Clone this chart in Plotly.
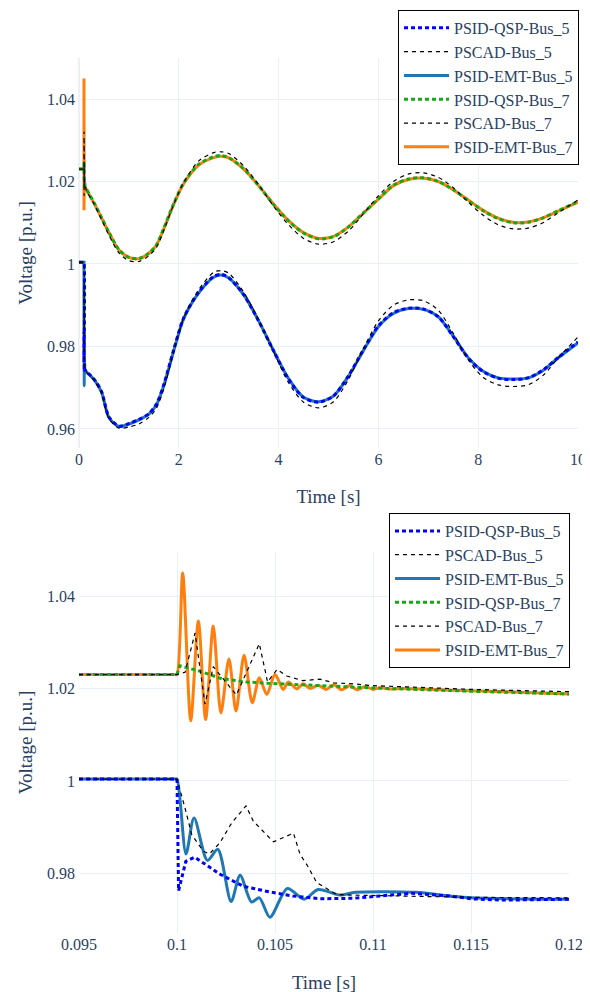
import plotly.graph_objects as go

# ---------------- fast (zoom window) data: 0.095 s .. 0.12 s ----------------
t_qsp5 = [0.095, 0.1, 0.10008, 0.10045, 0.1009, 0.1022, 0.10338, 0.1047, 0.1059, 0.1073, 0.1090, 0.1110, 0.1120, 0.1139, 0.1150, 0.1165, 0.12]
v_qsp5 = [1.0004, 1.0004, 0.9762, 0.9826, 0.9835, 0.9798, 0.9772, 0.9760, 0.9751, 0.9745, 0.9746, 0.9753, 0.9757, 0.9751, 0.9745, 0.9742, 0.9744]

t_pscad5 = [0.095, 0.1, 0.10041, 0.10075, 0.10134, 0.10165, 0.10219, 0.10279, 0.10352, 0.10389, 0.10492, 0.10594, 0.10628, 0.10662, 0.10713, 0.10755, 0.10815, 0.10885, 0.1115, 0.115, 0.12]
v_pscad5 = [1.0004, 1.0004, 0.9941, 0.9884, 0.9848, 0.9842, 0.9866, 0.9909, 0.9946, 0.9913, 0.9868, 0.9887, 0.9841, 0.9819, 0.9780, 0.9769, 0.9754, 0.9753, 0.9751, 0.9748, 0.9747]

t_emt5 = [0.095, 0.0999, 0.1, 0.10046, 0.10087, 0.10155, 0.10208, 0.10276, 0.10322, 0.10380, 0.10420, 0.10474, 0.10563, 0.10648, 0.10720, 0.10832, 0.10910, 0.1122, 0.1139, 0.115, 0.12]
v_emt5 = [1.0004, 1.0004, 1.0004, 0.9842, 0.9920, 0.9828, 0.9852, 0.9739, 0.9796, 0.9738, 0.9747, 0.9705, 0.9767, 0.9744, 0.9765, 0.9753, 0.9759, 0.9759, 0.9751, 0.9747, 0.9744]

t_qsp7 = [0.095, 0.1, 0.10015, 0.1012, 0.1022, 0.10355, 0.10474, 0.1068, 0.1100, 0.1150, 0.12]
v_qsp7 = [1.0230, 1.0230, 1.0249, 1.0237, 1.0222, 1.0214, 1.0211, 1.0207, 1.0201, 1.0194, 1.0188]

t_pscad7 = [0.095, 0.1, 0.10041, 0.10092, 0.10143, 0.10185, 0.10303, 0.1042, 0.10462, 0.1051, 0.1056, 0.10640, 0.10730, 0.1080, 0.1090, 0.1100, 0.1120, 0.1150, 0.12]
v_pscad7 = [1.0230, 1.0230, 1.0235, 1.0320, 1.0166, 1.0247, 1.0186, 1.0297, 1.0214, 1.0241, 1.0227, 1.0217, 1.0220, 1.0212, 1.0210, 1.0206, 1.0203, 1.0198, 1.0193]

t_emt7 = [0.095, 0.0999, 0.1, 0.10029, 0.1007, 0.10109, 0.10146, 0.10185, 0.10224, 0.10265, 0.10301, 0.10342, 0.10384, 0.1042, 0.10458, 0.105, 0.10542, 0.10568, 0.10611, 0.10644, 0.10679, 0.10721, 0.1076, 0.108, 0.1084, 0.1088, 0.1092, 0.1096, 0.11, 0.1104, 0.1108, 0.1115, 0.113, 0.115, 0.1175, 0.12]
v_emt7 = [1.0230, 1.0230, 1.0230, 1.0450, 1.0130, 1.0346, 1.0133, 1.0335, 1.0147, 1.0264, 1.0151, 1.0272, 1.0169, 1.0223, 1.0187, 1.0230, 1.0198, 1.0214, 1.0199, 1.0210, 1.0200, 1.0207, 1.0198, 1.0208, 1.0197, 1.0206, 1.0197, 1.0204, 1.0198, 1.0202, 1.0199, 1.0200, 1.0198, 1.0195, 1.0192, 1.0188]

# ---------------- slow data: 0.15 s .. 10 s ----------------
t_slow = [0.15, 0.3, 0.45, 0.6, 0.8, 1.0, 1.2, 1.4, 1.55, 1.7, 1.9, 2.1, 2.4, 2.7, 2.85, 3.0, 3.3, 3.6, 3.9, 4.2,
          4.5, 4.8, 5.1, 5.4, 5.7, 6.0, 6.3, 6.6, 6.9, 7.2, 7.5, 7.8, 8.1, 8.4, 8.7, 9.0, 9.3, 9.6, 10.0]

s_qsp5 = [0.9739, 0.9721, 0.9691, 0.9629, 0.9607, 0.9613, 0.9623, 0.9637, 0.9660, 0.9708, 0.9793, 0.9870, 0.9932, 0.9970, 0.9975, 0.9967, 0.9926, 0.9862, 0.9789, 0.9721,
          0.9676, 0.9665, 0.9680, 0.9729, 0.9792, 0.9850, 0.9882, 0.9893, 0.9891, 0.9872, 0.9824, 0.9772, 0.9739, 0.9723, 0.9720, 0.9724, 0.9743, 0.9773, 0.9811]
s_pscad5 = [0.9738, 0.9718, 0.9688, 0.9625, 0.9602, 0.9605, 0.9612, 0.9628, 0.9650, 0.9698, 0.9788, 0.9870, 0.9938, 0.9980, 0.9984, 0.9978, 0.9932, 0.9865, 0.9788, 0.9712,
            0.9665, 0.9651, 0.9666, 0.9720, 0.9795, 0.9862, 0.9900, 0.9913, 0.9911, 0.9888, 0.9832, 0.9768, 0.9725, 0.9707, 0.9703, 0.9707, 0.9730, 0.9772, 0.9823]
s_emt5 = [0.9738, 0.9720, 0.9690, 0.9628, 0.9606, 0.9612, 0.9622, 0.9636, 0.9658, 0.9705, 0.9790, 0.9868, 0.9930, 0.9968, 0.9973, 0.9966, 0.9925, 0.9862, 0.9790, 0.9722,
          0.9677, 0.9666, 0.9680, 0.9728, 0.9790, 0.9848, 0.9880, 0.9892, 0.9890, 0.9872, 0.9825, 0.9773, 0.9740, 0.9724, 0.9721, 0.9724, 0.9742, 0.9772, 0.9809]
s_qsp7 = [1.0181, 1.0149, 1.0113, 1.0077, 1.0035, 1.0016, 1.0013, 1.0026, 1.0046, 1.0087, 1.0147, 1.0197, 1.0242, 1.0260, 1.0263, 1.0258, 1.0231, 1.0190, 1.0144, 1.0104,
          1.0075, 1.0061, 1.0066, 1.0090, 1.0124, 1.0158, 1.0191, 1.0206, 1.0209, 1.0200, 1.0180, 1.0154, 1.0129, 1.0110, 1.0100, 1.0101, 1.0112, 1.0129, 1.0151]
s_pscad7 = [1.0178, 1.0146, 1.0108, 1.0070, 1.0027, 1.0008, 1.0006, 1.0020, 1.0040, 1.0082, 1.0145, 1.0198, 1.0250, 1.0270, 1.0272, 1.0268, 1.0238, 1.0192, 1.0140, 1.0095,
            1.0062, 1.0048, 1.0054, 1.0080, 1.0122, 1.0165, 1.0200, 1.0218, 1.0221, 1.0210, 1.0185, 1.0150, 1.0118, 1.0095, 1.0085, 1.0087, 1.0100, 1.0124, 1.0155]
s_emt7 = [1.0180, 1.0148, 1.0112, 1.0076, 1.0034, 1.0016, 1.0013, 1.0026, 1.0045, 1.0085, 1.0145, 1.0195, 1.0240, 1.0258, 1.0261, 1.0257, 1.0230, 1.0190, 1.0145, 1.0105,
          1.0076, 1.0062, 1.0067, 1.0090, 1.0123, 1.0157, 1.0190, 1.0205, 1.0208, 1.0200, 1.0180, 1.0155, 1.0130, 1.0111, 1.0101, 1.0102, 1.0112, 1.0128, 1.0150]

names = ["PSID-QSP-Bus_5", "PSCAD-Bus_5", "PSID-EMT-Bus_5", "PSID-QSP-Bus_7", "PSCAD-Bus_7", "PSID-EMT-Bus_7"]

FONT = "Liberation Serif"
TXT = "#2a3f5f"
GRID = "#EBF0F8"

styles = {
    "PSID-QSP-Bus_5": dict(color="#0000ff", width=3, dash="4px,3px"),
    "PSCAD-Bus_5": dict(color="#000000", width=1.2, dash="4px,4px"),
    "PSID-EMT-Bus_5": dict(color="#1f77b4", width=3, dash="solid"),
    "PSID-QSP-Bus_7": dict(color="#14aa14", width=3, dash="4px,3px"),
    "PSCAD-Bus_7": dict(color="#000000", width=1.2, dash="4px,4px"),
    "PSID-EMT-Bus_7": dict(color="#ff7f0e", width=3, dash="solid"),
}

fast = {
    "PSID-QSP-Bus_5": (t_qsp5, v_qsp5, s_qsp5),
    "PSCAD-Bus_5": (t_pscad5, v_pscad5, s_pscad5),
    "PSID-EMT-Bus_5": (t_emt5, v_emt5, s_emt5),
    "PSID-QSP-Bus_7": (t_qsp7, v_qsp7, s_qsp7),
    "PSCAD-Bus_7": (t_pscad7, v_pscad7, s_pscad7),
    "PSID-EMT-Bus_7": (t_emt7, v_emt7, s_emt7),
}

draw_order = ["PSID-EMT-Bus_5", "PSID-EMT-Bus_7", "PSID-QSP-Bus_5", "PSID-QSP-Bus_7", "PSCAD-Bus_5", "PSCAD-Bus_7"]

fig = go.Figure()
for panel in (1, 2):
    for nm in draw_order:
        tf, vf, vs = fast[nm]
        st = styles[nm]
        emt = "EMT" in nm
        if panel == 1:
            x = [0.0] + tf + t_slow
            y = [vf[0]] + vf + vs
            shape = "spline"
            xa, ya, lg = "x", "y", "legend"
        else:
            x, y = tf, vf
            shape = "spline" if emt else "linear"
            xa, ya, lg = "x2", "y2", "legend2"
        fig.add_trace(go.Scatter(
            x=x, y=y, mode="lines", name=nm,
            line=dict(color=st["color"], width=st["width"], dash=st["dash"], shape=shape, smoothing=0.8),
            legendrank=names.index(nm) + 1, xaxis=xa, yaxis=ya, legend=lg))

axis_common = dict(gridcolor=GRID, gridwidth=1, showline=False, automargin=False,
                   tickfont=dict(family=FONT, size=16, color=TXT), ticks="",
                   title_font=dict(family=FONT, size=19, color=TXT))

legend_common = dict(bgcolor="white", bordercolor="black", borderwidth=1, itemwidth=45,
                     font=dict(family=FONT, size=16, color=TXT), xanchor="right", yanchor="top",
                     traceorder="normal")

fig.update_layout(
    width=590, height=992,
    template="plotly_white",
    plot_bgcolor="white", paper_bgcolor="white",
    margin=dict(l=71, r=20, t=50, b=67, autoexpand=False),
    font=dict(family=FONT, color=TXT),
    xaxis=dict(domain=[0, 1], anchor="y", range=[0, 10], tick0=0, dtick=2,
               title=dict(text="Time [s]", standoff=22),
               zeroline=True, zerolinecolor=GRID, zerolinewidth=2, **axis_common),
    yaxis=dict(domain=[0.5543, 1], anchor="x", range=[0.95539, 1.04994], tick0=0.96, dtick=0.02,
               zeroline=False, ticklabelstandoff=3,
               title=dict(text="Voltage [p.u.]", standoff=9), **axis_common),
    xaxis2=dict(domain=[0, 0.982], anchor="y2", range=[0.095, 0.12], tick0=0.095, dtick=0.005,
                zeroline=False, title=dict(text="Time [s]", standoff=23), **axis_common),
    yaxis2=dict(domain=[0, 0.4354], anchor="x2", range=[0.96709, 1.04952], tick0=0.98, dtick=0.02,
                zeroline=False, ticklabelstandoff=3,
                title=dict(text="Voltage [p.u.]", standoff=9), **axis_common),
    legend=dict(x=1.002, y=1.0549, **legend_common),
    legend2=dict(x=0.984, y=0.48, **legend_common),
)

fig.write_html("out.html")
